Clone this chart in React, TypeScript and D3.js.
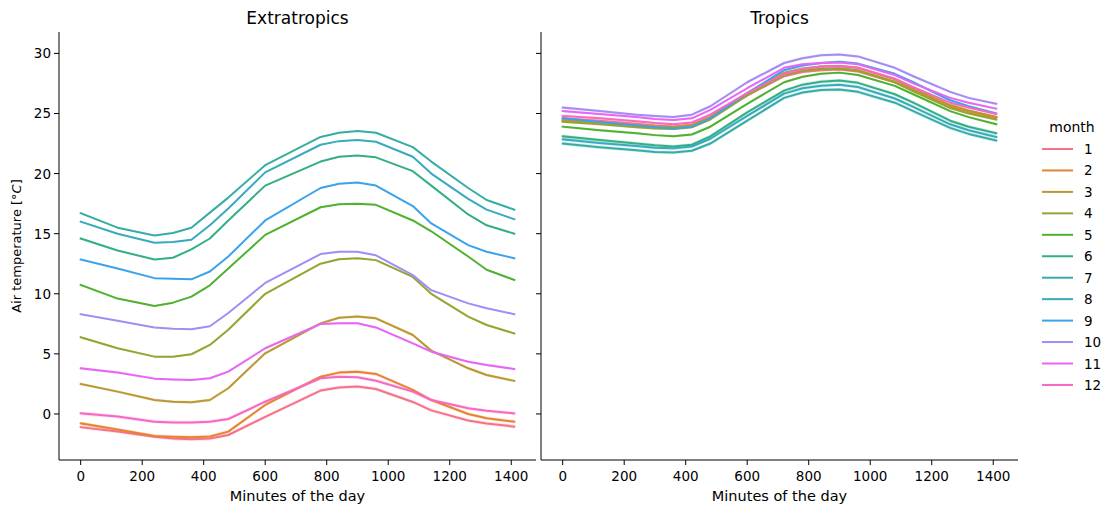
import React from "react";
import * as d3 from "d3";

// ---------- data ----------
const months = [1, 2, 3, 4, 5, 6, 7, 8, 9, 10, 11, 12];
const xTicks = [0, 200, 400, 600, 800, 1000, 1200, 1400];
const yTicks = [0, 5, 10, 15, 20, 25, 30];

const extraMinutes = [0, 120, 240, 300, 360, 420, 480, 600, 780, 840, 900, 960, 1080, 1140, 1260, 1320, 1410];
const extraM1 = [-1.1, -1.45, -1.9, -2.05, -2.1, -2.05, -1.75, -0.25, 1.95, 2.2, 2.28, 2.08, 1.0, 0.3, -0.55, -0.8, -1.05];
const extraM2 = [-0.78, -1.3, -1.83, -1.9, -1.94, -1.88, -1.47, 0.75, 3.1, 3.44, 3.52, 3.33, 2.0, 1.16, 0.0, -0.36, -0.64];
const extraM3 = [2.5, 1.86, 1.16, 1.02, 0.97, 1.16, 2.14, 5.05, 7.54, 8.0, 8.1, 7.96, 6.57, 5.27, 3.8, 3.24, 2.75];
const extraM4 = [6.38, 5.47, 4.77, 4.77, 4.97, 5.74, 7.0, 10.0, 12.5, 12.87, 12.95, 12.8, 11.4, 10.0, 8.1, 7.4, 6.7];
const extraM5 = [10.73, 9.6, 8.98, 9.26, 9.76, 10.7, 12.1, 14.9, 17.2, 17.45, 17.5, 17.4, 16.1, 15.2, 13.1, 12.0, 11.15];
const extraM6 = [14.6, 13.6, 12.85, 13.0, 13.7, 14.6, 16.1, 19.0, 21.0, 21.4, 21.5, 21.35, 20.2, 19.0, 16.6, 15.7, 15.0];
const extraM7 = [16.7, 15.5, 14.85, 15.05, 15.5, 16.75, 18.0, 20.7, 23.05, 23.4, 23.55, 23.4, 22.2, 21.0, 18.8, 17.8, 17.0];
const extraM8 = [16.0, 15.0, 14.25, 14.3, 14.5, 15.7, 17.1, 20.1, 22.4, 22.7, 22.8, 22.65, 21.4, 20.0, 17.9, 17.0, 16.2];
const extraM9 = [12.85, 12.1, 11.3, 11.25, 11.2, 11.85, 13.1, 16.1, 18.8, 19.15, 19.25, 19.0, 17.3, 15.85, 14.05, 13.5, 12.95];
const extraM10 = [8.3, 7.75, 7.2, 7.1, 7.05, 7.3, 8.4, 10.9, 13.3, 13.5, 13.5, 13.2, 11.55, 10.3, 9.2, 8.8, 8.3];
const extraM11 = [3.8, 3.45, 2.94, 2.87, 2.83, 2.97, 3.52, 5.47, 7.49, 7.54, 7.54, 7.2, 5.88, 5.18, 4.35, 4.08, 3.74];
const extraM12 = [0.05, -0.22, -0.64, -0.7, -0.72, -0.64, -0.42, 1.02, 2.97, 3.1, 3.05, 2.77, 1.86, 1.16, 0.47, 0.27, 0.05];
const extraCI = [0.15, 0.15, 0.12, 0.08, 0.06, 0.05, 0.05, 0.05, 0.05, 0.06, 0.1, 0.15];

const tropMinutes = [0, 120, 240, 300, 360, 420, 480, 600, 720, 780, 840, 900, 960, 1080, 1140, 1260, 1320, 1410];
const tropM1 = [24.6, 24.4, 24.15, 24.0, 23.9, 24.05, 24.7, 26.5, 28.1, 28.45, 28.6, 28.65, 28.5, 27.6, 26.9, 25.6, 25.2, 24.7];
const tropM2 = [24.45, 24.25, 24.05, 23.95, 23.9, 24.05, 24.7, 26.6, 28.2, 28.55, 28.7, 28.75, 28.6, 27.65, 26.95, 25.6, 25.15, 24.65];
const tropM3 = [24.4, 24.2, 24.0, 23.9, 23.85, 24.0, 24.7, 26.7, 28.4, 28.75, 28.9, 28.95, 28.8, 27.85, 27.1, 25.7, 25.25, 24.7];
const tropM4 = [24.3, 24.1, 23.85, 23.75, 23.7, 23.85, 24.5, 26.5, 28.2, 28.55, 28.7, 28.75, 28.55, 27.6, 26.85, 25.45, 25.0, 24.5];
const tropM5 = [23.9, 23.6, 23.35, 23.2, 23.1, 23.25, 23.9, 25.8, 27.6, 28.05, 28.3, 28.4, 28.2, 27.3, 26.6, 25.2, 24.7, 24.1];
const tropM6 = [23.1, 22.8, 22.5, 22.35, 22.25, 22.4, 23.1, 25.1, 26.9, 27.4, 27.65, 27.75, 27.55, 26.6, 25.9, 24.4, 23.9, 23.35];
const tropM7 = [22.5, 22.2, 21.95, 21.8, 21.75, 21.9, 22.5, 24.4, 26.3, 26.75, 26.95, 27.0, 26.8, 25.9, 25.2, 23.8, 23.3, 22.75];
const tropM8 = [22.85, 22.55, 22.3, 22.15, 22.1, 22.25, 22.9, 24.8, 26.65, 27.1, 27.3, 27.4, 27.2, 26.25, 25.55, 24.1, 23.6, 23.05];
const tropM9 = [24.6, 24.3, 24.0, 23.85, 23.75, 23.9, 24.6, 26.7, 28.6, 29.0, 29.2, 29.3, 29.15, 28.3, 27.6, 26.1, 25.6, 25.0];
const tropM10 = [25.5, 25.2, 24.9, 24.8, 24.7, 24.9, 25.6, 27.6, 29.2, 29.6, 29.85, 29.9, 29.75, 28.8, 28.1, 26.8, 26.3, 25.8];
const tropM11 = [25.2, 24.95, 24.7, 24.55, 24.45, 24.6, 25.3, 27.1, 28.8, 29.1, 29.2, 29.25, 29.1, 28.2, 27.5, 26.3, 25.9, 25.4];
const tropM12 = [24.8, 24.6, 24.35, 24.2, 24.1, 24.25, 24.9, 26.7, 28.3, 28.7, 28.9, 28.95, 28.8, 27.9, 27.2, 25.9, 25.5, 24.95];
const tropCI = [0.12, 0.12, 0.1, 0.1, 0.1, 0.15, 0.15, 0.15, 0.1, 0.12, 0.1, 0.12];

const extraSeries = [extraM1, extraM2, extraM3, extraM4, extraM5, extraM6, extraM7, extraM8, extraM9, extraM10, extraM11, extraM12];
const tropSeries = [tropM1, tropM2, tropM3, tropM4, tropM5, tropM6, tropM7, tropM8, tropM9, tropM10, tropM11, tropM12];

// ---------- seaborn husl palette ----------
const HM = [
  [3.2406, -1.5372, -0.4986],
  [-0.9689, 1.8758, 0.0415],
  [0.0557, -0.204, 1.057],
];
const refU = 0.19784, refV = 0.46834, labE = 0.008856, labK = 903.3;
function maxChroma(L: number, H: number) {
  const hrad = (H * Math.PI) / 180;
  const sinH = Math.sin(hrad), cosH = Math.cos(hrad);
  const sub1 = Math.pow(L + 16, 3) / 1560896.0;
  const sub2 = sub1 > 0.008856 ? sub1 : L / 903.3;
  let result = Infinity;
  for (const row of HM) {
    const [m1, m2, m3] = row;
    const top = (0.99915 * m1 + 1.05122 * m2 + 1.1446 * m3) * sub2;
    const rbottom = 0.8633 * m3 - 0.17266 * m2;
    const lbottom = 0.12949 * m3 - 0.38848 * m1;
    const bottom = (rbottom * sinH + lbottom * cosH) * sub2;
    for (const t of [0, 1]) {
      const C = (L * (top - 1.05122 * t)) / (bottom + 0.17266 * sinH * t);
      if (C > 0 && C < result) result = C;
    }
  }
  return result;
}
function fromLinear(c: number) {
  return c <= 0.0031308 ? 12.92 * c : 1.055 * Math.pow(c, 1 / 2.4) - 0.055;
}
function huslToHex(H: number, S: number, L: number) {
  const C = (maxChroma(L, H) / 100) * S;
  const hr = (H * Math.PI) / 180;
  const U = Math.cos(hr) * C, V = Math.sin(hr) * C;
  const t = (L + 16) / 116;
  const varY = Math.pow(t, 3) > labE ? Math.pow(t, 3) : (116 * t - 16) / labK;
  const varU = U / (13 * L) + refU;
  const varV = V / (13 * L) + refV;
  const Y = varY;
  const X = 0 - (9 * Y * varU) / ((varU - 4) * varV - varU * varV);
  const Z = (9 * Y - 15 * varV * Y - varV * X) / (3 * varV);
  const rgb = HM.map((r) => Math.min(1, Math.max(0, fromLinear(r[0] * X + r[1] * Y + r[2] * Z))));
  return d3.rgb(rgb[0] * 255, rgb[1] * 255, rgb[2] * 255).formatHex();
}
function huslPalette(n: number) {
  const out: string[] = [];
  for (let i = 0; i < n; i++) {
    const h = (((i / n) + 0.01) % 1) * 359;
    out.push(huslToHex(h, 0.9 * 99, 0.65 * 99));
  }
  return out;
}
const colors = huslPalette(12);

// ---------- layout ----------
const W = 1107, H = 510;
const FONT = "DejaVu Sans";
const yScale = d3.scaleLinear().domain([-3.83, 31.78]).range([460, 32]);
const panels = [
  { title: "Extratropics", minutes: extraMinutes, series: extraSeries, ci: extraCI, x: d3.scaleLinear().domain([-70.5, 1480.5]).range([59, 536]), labels: true },
  { title: "Tropics", minutes: tropMinutes, series: tropSeries, ci: tropCI, x: d3.scaleLinear().domain([-70.5, 1480.5]).range([541, 1018]), labels: false },
];

function Panel({ p }: { p: typeof panels[0] }) {
  const x = p.x;
  const [x0, x1] = x.range();
  const [y0, y1] = yScale.range();
  return (
    <g>
      {p.series.map((vals, i) => {
        const pts = p.minutes.map((m, j) => ({ m, v: vals[j] }));
        const area = d3
          .area<{ m: number; v: number }>()
          .x((d) => x(d.m))
          .y0((d) => yScale(d.v - p.ci[i]))
          .y1((d) => yScale(d.v + p.ci[i]));
        return <path key={"a" + i} d={area(pts) || ""} fill={colors[i]} fillOpacity={0.2} stroke="none" />;
      })}
      {p.series.map((vals, i) => {
        const pts = p.minutes.map((m, j) => ({ m, v: vals[j] }));
        const line = d3
          .line<{ m: number; v: number }>()
          .x((d) => x(d.m))
          .y((d) => yScale(d.v));
        return <path key={"l" + i} d={line(pts) || ""} fill="none" stroke={colors[i]} strokeWidth={2} strokeLinejoin="round" strokeLinecap="square" />;
      })}
      {/* spines */}
      <line x1={x0} x2={x0} y1={y1} y2={y0} stroke="#000" strokeWidth={1} />
      <line x1={x0} x2={x1} y1={y0} y2={y0} stroke="#000" strokeWidth={1} />
      {xTicks.map((t) => (
        <g key={"xt" + t}>
          <line x1={x(t)} x2={x(t)} y1={y0} y2={y0 + 5} stroke="#000" strokeWidth={1} />
          <text x={x(t)} y={y0 + 21} textAnchor="middle" fontSize={13.5} fontFamily={FONT} fill="#000">
            {t}
          </text>
        </g>
      ))}
      {yTicks.map((t) => (
        <g key={"yt" + t}>
          <line x1={x0 - 5} x2={x0} y1={yScale(t)} y2={yScale(t)} stroke="#000" strokeWidth={1} />
          {p.labels && (
            <text x={x0 - 8} y={yScale(t) + 5} textAnchor="end" fontSize={13.5} fontFamily={FONT} fill="#000">
              {t}
            </text>
          )}
        </g>
      ))}
      <text x={(x0 + x1) / 2} y={501} textAnchor="middle" fontSize={14.5} fontFamily={FONT} fill="#000">
        Minutes of the day
      </text>
      <text x={(x0 + x1) / 2} y={24} textAnchor="middle" fontSize={17} fontFamily={FONT} fill="#000">
        {p.title}
      </text>
    </g>
  );
}

export default function App() {
  return (
    <svg width={W} height={H} style={{ position: "absolute", left: 0, top: 0, background: "#fff" }}>
      <rect x={0} y={0} width={W} height={H} fill="#fff" />
      {panels.map((p) => (
        <Panel key={p.title} p={p} />
      ))}
      <text transform={`translate(21,246) rotate(-90)`} textAnchor="middle" fontSize={13} fontFamily={FONT} fill="#000">
        Air temperature [°<tspan fontStyle="italic">C</tspan>]
      </text>
      <text x={1072} y={132} textAnchor="middle" fontSize={14} fontFamily={FONT} fill="#000">
        month
      </text>
      {months.map((m, i) => {
        const yy = 149 + i * 21.45;
        return (
          <g key={"lg" + m}>
            <line x1={1042} x2={1073} y1={yy} y2={yy} stroke={colors[i]} strokeWidth={2} />
            <text x={1084} y={yy + 5} fontSize={13.5} fontFamily={FONT} fill="#000">
              {m}
            </text>
          </g>
        );
      })}
    </svg>
  );
}
